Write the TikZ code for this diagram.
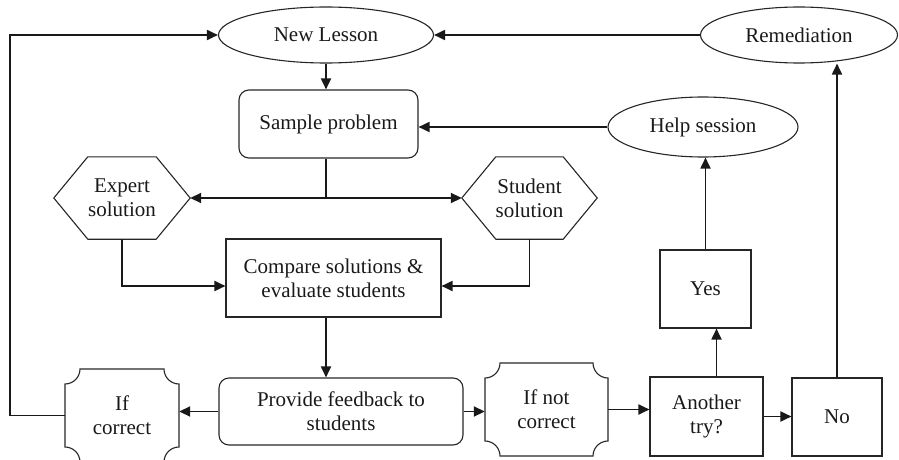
\documentclass[tikz,border=0pt]{standalone}
\usepackage{fontspec}
\setmainfont{Liberation Serif}
\usetikzlibrary{arrows.meta,shapes.geometric,calc}
\newcommand\cshape[5]{%
 \draw[shp] (#1,{#2+#5}) .. controls ({#1+0.55*#5},{#2+#5}) and ({#1+#5},{#2+0.55*#5}) .. ({#1+#5},#2)
   -- ({#3-#5},#2) .. controls ({#3-#5},{#2+0.55*#5}) and ({#3-0.55*#5},{#2+#5}) .. (#3,{#2+#5})
   -- (#3,{#4-#5}) .. controls ({#3-0.55*#5},{#4-#5}) and ({#3-#5},{#4-0.55*#5}) .. ({#3-#5},#4)
   -- ({#1+#5},#4) .. controls ({#1+#5},{#4-0.55*#5}) and ({#1+0.55*#5},{#4-#5}) .. (#1,{#4-#5})
   -- cycle;}
\newcommand\hexa[2]{%
 \draw[shp] (#1.west) -- ([xshift=#2]#1.north west) -- ([xshift=-#2]#1.north east) -- (#1.east)
   -- ([xshift=-#2]#1.south east) -- ([xshift=#2]#1.south west) -- cycle;}
\begin{document}
\begin{tikzpicture}[x=1pt,y=-1pt,
  every node/.style={font=\fontsize{21}{24}\selectfont, align=center, inner sep=0pt, text=black!90},
  shp/.style={draw=black!85, line width=1.1pt},
  ell/.style={shp, ellipse},
  rbox/.style={shp, rectangle, rounded corners=10pt},
  sbox/.style={shp, rectangle},
  txtbox/.style={rectangle},
  conn/.style={draw=black!90, line width=1.8pt, -{Triangle[length=11pt,width=10pt]}},
  plain/.style={draw=black!90, line width=1.8pt}
]
\useasboundingbox (0,0) rectangle (899,460);

% nodes
\node[ell, minimum width=215pt, minimum height=56pt] (lesson) at (326,35) {New Lesson};
\node[ell, minimum width=197pt, minimum height=56pt] (remed) at (799,35) {Remediation};
\node[ell, minimum width=190pt, minimum height=60pt] (help) at (703,127) {Help session};
\node[rbox, minimum width=179pt, minimum height=68pt] (sample) at (328.5,124) {Sample problem};
\node[txtbox, minimum width=136pt, minimum height=82pt] (expert) at (122,198) {Expert\\solution};
\hexa{expert}{34pt}
\node[txtbox, minimum width=135pt, minimum height=82pt] (student) at (529.5,198) {Student\\solution};
\hexa{student}{34pt}
\node[sbox, minimum width=215pt, minimum height=78pt] (compare) at (333.5,278) {Compare solutions \&\\evaluate students};
\node[rbox, minimum width=244pt, minimum height=67pt] (feedback) at (341,411.5) {Provide feedback to\\students};
\node[txtbox, minimum width=114pt, minimum height=93pt] (ifc) at (122,415.5) {If\\correct};
\cshape{65}{369}{179}{462}{15}
\node[txtbox, minimum width=123pt, minimum height=93pt] (ifnc) at (546.5,409.5) {If not\\correct};
\cshape{485}{363}{608}{456}{15}
\node[sbox, minimum width=113pt, minimum height=79pt] (another) at (706.5,416.5) {Another\\try?};
\node[sbox, minimum width=91pt, minimum height=78pt] (yes) at (705.5,289) {Yes};
\node[sbox, minimum width=90pt, minimum height=78pt] (no) at (837,417) {No};

% connectors
\draw[conn] (lesson.south) -- (lesson.south |- sample.north);
\draw[conn] (remed.west) -- (lesson.east);
\draw[conn] (help.west) -- (help.west -| sample.east);
\draw[plain] (lesson.south |- sample.south) -- (lesson.south |- expert.east) coordinate (j);
\draw[conn] (j) -- (expert.east);
\draw[conn] (j) -- (student.west);
\draw[conn] (expert.south) |- ($(compare.west)+(0,8)$);
\draw[conn] (student.south) |- ($(compare.east)+(0,8)$);
\draw[conn] (lesson.south |- compare.south) -- (lesson.south |- feedback.north);
\draw[conn] (feedback.west) -- (feedback.west -| ifc.east);
\draw[conn] (ifc.west) -- ++(-55,0) |- (lesson.west);
\draw[conn] (feedback.east) -- (feedback.east -| ifnc.west);
\draw[conn] (ifnc.east) -- (ifnc.east -| another.west);
\draw[conn] (another.east) -- (another.east -| no.west);
\draw[conn] ([xshift=10pt]another.north) -- ([xshift=10pt]another.north |- yes.south);
\draw[conn] (yes.north) -- (yes.north |- help.south);
\draw[conn] (no.north) -- (no.north |- remed.south);
\end{tikzpicture}
\end{document}
